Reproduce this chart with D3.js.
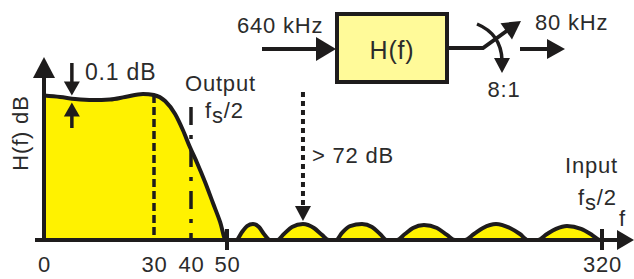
<!DOCTYPE html>
<html>
<head>
<meta charset="utf-8">
<script src="https://cdn.jsdelivr.net/npm/d3@7"></script>
<style>
  html, body { margin: 0; padding: 0; background: #fff; }
  svg { display: block; }
  text { font-family: "Liberation Sans", Arial, sans-serif; fill: #2b2b2b; letter-spacing: 0.8px; }
</style>
</head>
<body>
<svg id="chart" width="634" height="279"></svg>
<script>
// ---- data (frequency in kHz, response level in schematic dB) ----
const freqs = [0, 4.4, 8.5, 13.4, 18, 22.1, 27, 30, 33, 35.7, 37.8, 39.7, 41.7, 43.9, 46.1, 48.1, 49.7,
  56.5, 60.8, 64.4, 68.7, 73, 76.6, 81, 86,
  91, 96.8, 104.7, 112.6, 118.4, 123.4, 128.5,
  132.8, 138.6, 147.2, 154.4, 160.2, 165.2, 172.4,
  178.1, 183.9, 191.8, 201.2, 208.4, 214.1, 221.3,
  227.8, 234.3, 243.7, 253.7, 260.9, 266.7, 273.9,
  280.4, 286.9, 294.8, 304.9, 312.8, 318.5, 320];
const levels = [-0.3, -1.1, -2.2, -2.8, -2.5, -1.1, 0.6, 0, -3.3, -10.5, -19.3, -28.7, -37.5, -48, -59.6, -70.1, -80,
  -80, -75.6, -72.3, -71.2, -72.8, -76.7, -80, -80,
  -76.7, -72.8, -71.2, -73.4, -77.2, -80, -80,
  -76.1, -72.3, -71.2, -72.8, -76.7, -80, -80,
  -76.7, -73.4, -71.7, -73.4, -77.2, -80, -80,
  -76.7, -73.4, -71.2, -73.4, -76.7, -80, -80,
  -76.7, -73.9, -72.3, -73.9, -77.2, -80, -80];
const tickValues = [0, 30, 40, 50, 320];
const tickLabels = ["0", "30", "40", "50", "320"];
const markedTicks = [50, 320];
const passbandEdge = 30;     // dashed line
const outputNyquist = 40;    // dash-dot line
const rippleFreq = 7.6;      // 0.1 dB ripple marker
const stopbandMarkFreq = 104.7; // > 72 dB marker
const floorDb = -80;
const inputRate = "640 kHz", outputRate = "80 kHz", ratio = "8:1";

const svg = d3.select("#chart");
const ink = "#1e1c1c";

const x = d3.scaleLinear().domain([0, 30, 40, 50, 320]).range([44, 154, 191, 227, 602]);
const y = d3.scaleLinear().domain([floorDb, 0]).range([240, 95]);

const pts = freqs.map((f, i) => [f, levels[i]]);

// filled area
svg.append("path")
  .datum(pts)
  .attr("fill", "#fff200")
  .attr("d", d3.area().x(d => x(d[0])).y0(y(floorDb)).y1(d => y(d[1])).curve(d3.curveMonotoneX));

function levelAt(f) {
  const i = d3.bisector(d => d).left(freqs, f);
  if (i <= 0) return levels[0];
  const t = (f - freqs[i - 1]) / (freqs[i] - freqs[i - 1]);
  return levels[i - 1] + t * (levels[i] - levels[i - 1]);
}

// dashed line at passband edge
svg.append("line")
  .attr("x1", x(passbandEdge)).attr("x2", x(passbandEdge))
  .attr("y1", y(levelAt(passbandEdge))).attr("y2", y(floorDb))
  .attr("stroke", ink).attr("stroke-width", 3.5).attr("stroke-dasharray", "8,4");

// dash-dot line at output fs/2
svg.append("line")
  .attr("x1", x(outputNyquist)).attr("x2", x(outputNyquist))
  .attr("y1", 107).attr("y2", y(floorDb))
  .attr("stroke", ink).attr("stroke-width", 3.5).attr("stroke-dasharray", "18,10,4,10");

// response curve
svg.append("path")
  .datum(pts)
  .attr("fill", "none").attr("stroke", ink).attr("stroke-width", 4).attr("stroke-linejoin", "round")
  .attr("d", d3.line().x(d => x(d[0])).y(d => y(d[1])).curve(d3.curveMonotoneX));

function head(tx, ty, angle, len, hw) {
  // angle: direction of travel in degrees (0 = right, 90 = down)
  const a = angle * Math.PI / 180;
  const bx = tx - len * Math.cos(a), by = ty - len * Math.sin(a);
  const px = -Math.sin(a) * hw, py = Math.cos(a) * hw;
  svg.append("path")
    .attr("d", `M${tx},${ty}L${bx + px},${by + py}L${bx - px},${by - py}Z`)
    .attr("fill", ink);
}
function seg(x1, y1, x2, y2, w, dash) {
  const l = svg.append("line").attr("x1", x1).attr("y1", y1).attr("x2", x2).attr("y2", y2)
    .attr("stroke", ink).attr("stroke-width", w || 4);
  if (dash) l.attr("stroke-dasharray", dash);
  return l;
}

// axes
const x0 = x(0), yb = y(floorDb);
seg(x0, yb + 2, x0, 74, 4);
head(x0, 57, -90, 21, 11);
seg(35, yb, 620, yb, 4);
head(634, yb, 0, 17, 10);
markedTicks.forEach(t => seg(x(t), yb - 11, x(t), yb + 10, 4));

const ax = d3.axisBottom(x).tickValues(tickValues).tickSize(0).tickPadding(16)
  .tickFormat((d, i) => tickLabels[i]);
const axG = svg.append("g").attr("transform", `translate(0,${yb})`).call(ax);
axG.select(".domain").remove();
axG.selectAll("text").attr("font-size", 22).attr("font-family", null).style("fill", "#2b2b2b");

// y label
svg.append("text").attr("transform", "translate(28,133) rotate(-90)")
  .attr("text-anchor", "middle").attr("font-size", 22).text("H(f) dB");

// ripple markers
const rx = x(rippleFreq), ry = y(levelAt(rippleFreq));
seg(rx, 63, rx, ry - 14, 3.5);
head(rx, ry - 3, 90, 14, 8);
seg(rx, 128, rx, ry + 16, 3.5);
head(rx, ry + 4, -90, 14, 8);
svg.append("text").attr("x", 85).attr("y", 80).attr("font-size", 23).text("0.1 dB");

// Output fs/2
svg.append("text").attr("x", 185).attr("y", 91).attr("font-size", 22).attr("letter-spacing", "1.8px").text("Output");
const o = svg.append("text").attr("x", 205).attr("y", 118).attr("font-size", 22);
o.append("tspan").text("f");
o.append("tspan").attr("dy", 5).text("s");
o.append("tspan").attr("dy", -5).text("/2");

// > 72 dB marker
const mx = x(stopbandMarkFreq);
seg(mx, 92, mx, 208, 4, "5,4");
head(mx, 221, 90, 15, 8);
svg.append("text").attr("x", 312).attr("y", 163).attr("font-size", 22).attr("letter-spacing", "1.5px").text("> 72 dB");

// Input fs/2
svg.append("text").attr("x", 565).attr("y", 173).attr("font-size", 22).text("Input");
const ii = svg.append("text").attr("x", 578).attr("y", 205).attr("font-size", 22);
ii.append("tspan").text("f");
ii.append("tspan").attr("dy", 5).text("s");
ii.append("tspan").attr("dy", -5).text("/2");
svg.append("text").attr("x", 619).attr("y", 226).attr("font-size", 22).text("f");

// block diagram
seg(262, 49, 320, 49, 4);
head(336, 49, 0, 20, 12);
svg.append("rect").attr("x", 337).attr("y", 14).attr("width", 110).attr("height", 68)
  .attr("fill", "#fffa99").attr("stroke", ink).attr("stroke-width", 4);
svg.append("text").attr("x", 392).attr("y", 59).attr("text-anchor", "middle").attr("font-size", 25)
  .attr("letter-spacing", "0px").text("H(f)");
svg.append("text").attr("x", 237).attr("y", 33).attr("font-size", 22).text(inputRate);

svg.append("path").attr("d", "M447,48L483,48L508,30").attr("fill", "none")
  .attr("stroke", ink).attr("stroke-width", 4).attr("stroke-linejoin", "miter");
head(521, 21, -35, 18, 10);
svg.append("path").attr("d", "M477,24Q501,34 502,60").attr("fill", "none")
  .attr("stroke", ink).attr("stroke-width", 3.5);
head(502, 73, 90, 15, 8);
svg.append("text").attr("x", 504).attr("y", 97).attr("text-anchor", "middle").attr("font-size", 22).text(ratio);

seg(520, 49, 549, 49, 4);
head(565, 49, 0, 18, 10);
svg.append("text").attr("x", 535).attr("y", 30).attr("font-size", 22).text(outputRate);
</script>
</body>
</html>
